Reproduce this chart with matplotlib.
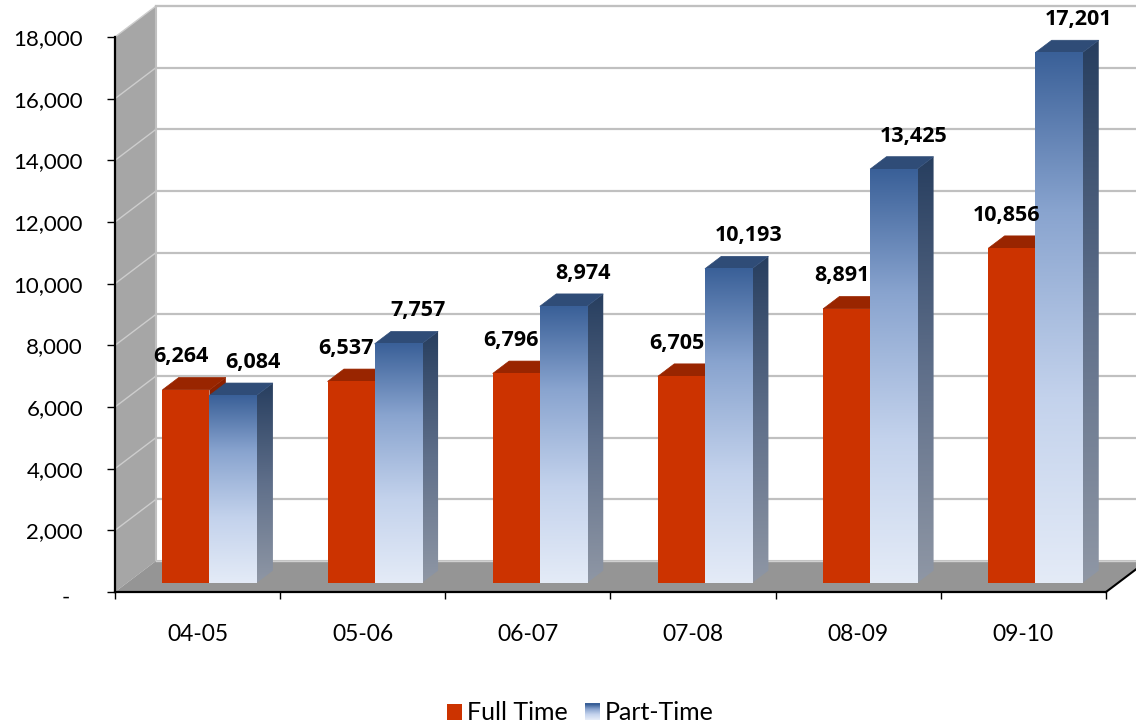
import numpy as np
import matplotlib
matplotlib.use('Agg')
import matplotlib.pyplot as plt
from matplotlib.patches import Polygon, Rectangle, Patch
from matplotlib.colors import LinearSegmentedColormap
from matplotlib.legend_handler import HandlerBase
from matplotlib.transforms import ScaledTranslation

# 数据
years = ['04-05', '05-06', '06-07', '07-08', '08-09', '09-10']
full_time = [6264, 6537, 6796, 6705, 8891, 10856]
part_time = [6084, 7757, 8974, 10193, 13425, 17201]
series_names = ['Full Time', 'Part-Time']
y_ticks = [0, 2000, 4000, 6000, 8000, 10000, 12000, 14000, 16000, 18000]
y_tick_labels = ['-', '2,000', '4,000', '6,000', '8,000', '10,000',
                 '12,000', '14,000', '16,000', '18,000']

# 颜色
RED_FRONT = '#cc3300'
RED_SIDE = '#8a2000'
RED_TOP = '#992500'
BLUE_TOP = '#2f4c77'
blue_front_cmap = LinearSegmentedColormap.from_list(
    'bf', [(0, '#e4ebf7'), (0.35, '#c3d2ec'), (0.7, '#89a4cf'), (1, '#3a6098')])
blue_side_cmap = LinearSegmentedColormap.from_list(
    'bs', [(0, '#8f97a5'), (0.5, '#5f6f8a'), (1, '#273e5f')])

# 伪 3D 参数 (数据单位)
DX = 0.248      # 墙体深度 x 偏移 (类别单位)
DY = 1005       # 墙体深度 y 偏移 (数值单位)
BAR_D0 = 0.29   # 柱体前面所在深度比例
BAR_DEPTH = 0.40
BAR_W = 0.285
YMAX = 18000

fig = plt.figure(figsize=(11.36, 7.26), dpi=100)
ax = fig.add_axes([0.10123, 0.18457, 0.87236, 0.76446])
ax.set_facecolor('none')

x_left, x_right = -0.5, len(years) - 0.5

# 左墙
ax.add_patch(Polygon([(x_left, 0), (x_left, YMAX), (x_left + DX, YMAX + DY),
                      (x_left + DX, DY)], closed=True, facecolor='#a6a6a6',
                     edgecolor='none', zorder=0.5, clip_on=False))
# 背墙
ax.add_patch(Polygon([(x_left + DX, DY), (x_left + DX, YMAX + DY),
                      (x_right + DX, YMAX + DY), (x_right + DX, DY)], closed=True,
                     facecolor='white', edgecolor='#c0c0c0', linewidth=1.5,
                     zorder=0.5, clip_on=False))
# 网格线
for v in y_ticks[1:]:
    ax.plot([x_left, x_left + DX], [v, v + DY], color='#cdcdcd', linewidth=1,
            zorder=0.6, clip_on=False)
    ax.plot([x_left + DX, x_right + DX], [v + DY, v + DY], color='#c0c0c0',
            linewidth=1.6, zorder=0.6, clip_on=False)
# 地板
ax.add_patch(Polygon([(x_left, 0), (x_right, 0), (x_right + DX, DY),
                      (x_left + DX, DY)], closed=True, facecolor='#959595',
                     edgecolor='none', zorder=0.7, clip_on=False))
ax.plot([x_left + DX, x_right + DX], [DY, DY], color='#d0d0d0', linewidth=1,
        zorder=0.72, clip_on=False)
ax.plot([x_right, x_right + DX], [0, DY], color='black', linewidth=1.5,
        zorder=0.75, clip_on=False)

grad = np.linspace(0, 1, 256).reshape(-1, 1)


def draw_bar(xl, v, kind, z):
    x0 = xl + BAR_D0 * DX
    y0 = BAR_D0 * DY
    ddx = BAR_DEPTH * DX
    ddy = BAR_DEPTH * DY
    side = [(x0 + BAR_W, y0), (x0 + BAR_W + ddx, y0 + ddy),
            (x0 + BAR_W + ddx, y0 + v + ddy), (x0 + BAR_W, y0 + v)]
    top = [(x0, y0 + v), (x0 + ddx, y0 + v + ddy),
           (x0 + BAR_W + ddx, y0 + v + ddy), (x0 + BAR_W, y0 + v)]
    if kind == 'full':
        ax.add_patch(Polygon(side, closed=True, facecolor=RED_SIDE,
                             edgecolor='none', zorder=z))
        ax.add_patch(Polygon(top, closed=True, facecolor=RED_TOP,
                             edgecolor=RED_TOP, linewidth=0.5, zorder=z))
        ax.add_patch(Rectangle((x0, y0), BAR_W, v, facecolor=RED_FRONT,
                               edgecolor='none', zorder=z + 0.01))
    else:
        side_poly = Polygon(side, closed=True, facecolor='none',
                            edgecolor='none', zorder=z)
        ax.add_patch(side_poly)
        im = ax.imshow(grad, cmap=blue_side_cmap, origin='lower', aspect='auto',
                       extent=[x0 + BAR_W, x0 + BAR_W + ddx, y0, y0 + v + ddy],
                       zorder=z, interpolation='bilinear')
        im.set_clip_path(side_poly)
        ax.add_patch(Polygon(top, closed=True, facecolor=BLUE_TOP,
                             edgecolor=BLUE_TOP, linewidth=0.5, zorder=z))
        ax.imshow(grad, cmap=blue_front_cmap, origin='lower', aspect='auto',
                  extent=[x0, x0 + BAR_W, y0, y0 + v], zorder=z + 0.01,
                  interpolation='bilinear')
    return x0 + BAR_W / 2, y0 + v


label_font = dict(family='Open Sans', fontweight='bold', fontsize=15.5,
                  color='black', ha='center', va='center', zorder=10)

for i, (ft, pt) in enumerate(zip(full_time, part_time)):
    z = 2 + i * 0.1
    cx, top_y = draw_bar(i - BAR_W, ft, 'full', z)
    ax.text(cx - 0.03, top_y + 1070, f'{ft:,}', **label_font)
    cx, top_y = draw_bar(i, pt, 'part', z + 0.05)
    ax.text(cx + 0.12, top_y + 1070, f'{pt:,}', **label_font)

# 坐标轴
ax.set_xlim(x_left, x_right)
ax.set_ylim(0, YMAX)
for s in ['top', 'right']:
    ax.spines[s].set_visible(False)
for s in ['left', 'bottom']:
    ax.spines[s].set_color('black')
    ax.spines[s].set_linewidth(1.6)
    ax.spines[s].set_zorder(3)

ax.set_yticks(y_ticks)
ax.set_yticklabels(y_tick_labels, family='Lato', fontsize=16)
ax.tick_params(axis='y', direction='out', length=6, width=1, pad=17,
               colors='black')
ax.set_xticks(range(len(years)))
ax.set_xticklabels(years, family='Lato', fontsize=16.5)
ax.set_xticks(np.arange(len(years) + 1) - 0.5, minor=True)
ax.tick_params(axis='x', which='major', length=0, pad=23, colors='black')
ax.tick_params(axis='x', which='minor', direction='out', length=5, width=1,
               colors='black')

# "-" 标签左移 (会计格式)
zero_lbl = ax.yaxis.get_major_ticks()[0].label1
zero_lbl.set_transform(zero_lbl.get_transform() +
                       ScaledTranslation(-0.13, -0.04, fig.dpi_scale_trans))


class GradientHandler(HandlerBase):
    def create_artists(self, legend, orig_handle, xdescent, ydescent, width,
                       height, fontsize, trans):
        n = 16
        arts = []
        for k in range(n):
            arts.append(Rectangle((-xdescent, -ydescent + height * k / n),
                                  width, height / n + 0.2,
                                  facecolor=blue_front_cmap(k / (n - 1)),
                                  edgecolor='none', transform=trans))
        return arts


red_handle = Patch(facecolor=RED_FRONT, edgecolor='none')
blue_handle = Patch(facecolor='#7f9bc9', edgecolor='none')
fig.legend([red_handle, blue_handle], series_names, loc='center',
           bbox_to_anchor=(0.511, 0.018), ncol=2, frameon=False,
           prop={'family': 'Lato', 'size': 18}, handlelength=0.6,
           handleheight=0.6, handletextpad=0.2, columnspacing=0.7,
           handler_map={blue_handle: GradientHandler()})

fig.savefig('out.png', dpi=100)
